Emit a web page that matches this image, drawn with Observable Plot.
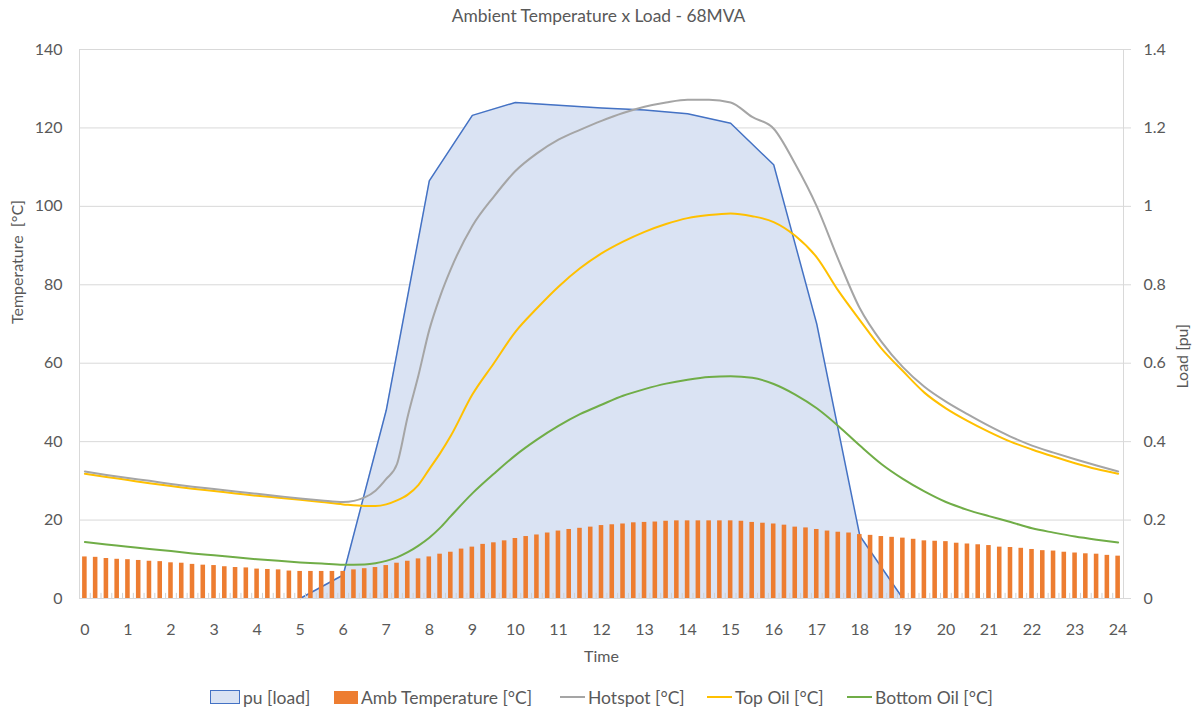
<!DOCTYPE html>
<html>
<head>
<meta charset="utf-8">
<script src="https://cdn.jsdelivr.net/npm/d3@7"></script>
<script src="https://cdn.jsdelivr.net/npm/@observablehq/plot@0.6"></script>
<style>
  body { margin: 0; background: #fff; font-family: Lato, "Noto Sans", sans-serif; color: #595959; }
  #wrap { position: relative; width: 1197px; height: 711px; }
  #title { position: absolute; top: 0; left: 0; width: 1197px; height: 32px; line-height: 32px; text-align: center; font-size: 17.4px; color: #595959; }
  #chart { position: absolute; top: 32px; left: 0; }
  #legend { position: absolute; top: 684px; left: 0; width: 1197px; height: 26px; font-size: 17.5px; color: #595959; }
  .item { position: absolute; top: 0; height: 26px; display: flex; align-items: center; white-space: nowrap; }
  .sw { display: inline-block; margin-right: 3px; }
</style>
</head>
<body>
<div id="wrap">
  <div id="title">Ambient Temperature x Load - 68MVA</div>
  <div id="chart"></div>
  <div id="legend">
    <div class="item" style="left:210px"><span class="sw" style="width:30px;height:14px;background:#DAE3F3;border:1px solid #4472C4;box-sizing:border-box"></span>pu [load]</div>
    <div class="item" style="left:334px"><span class="sw" style="width:24px;height:13px;background:#ED7D31"></span>Amb Temperature [°C]</div>
    <div class="item" style="left:560px"><span class="sw" style="width:25px;height:2px;background:#A5A5A5"></span>Hotspot [°C]</div>
    <div class="item" style="left:707px"><span class="sw" style="width:25px;height:2px;background:#FFC000"></span>Top Oil [°C]</div>
    <div class="item" style="left:847px"><span class="sw" style="width:25px;height:2px;background:#70AD47"></span>Bottom Oil [°C]</div>
  </div>
</div>
<script>
// ---- Data ----
const hourTicks = [0,1,2,3,4,5,6,7,8,9,10,11,12,13,14,15,16,17,18,19,20,21,22,23,24];
const tempTicks = [0,20,40,60,80,100,120,140];

// Ambient temperature, 15-minute steps
const ambTimes = [
  0,0.25,0.5,0.75, 1,1.25,1.5,1.75, 2,2.25,2.5,2.75, 3,3.25,3.5,3.75,
  4,4.25,4.5,4.75, 5,5.25,5.5,5.75, 6,6.25,6.5,6.75, 7,7.25,7.5,7.75,
  8,8.25,8.5,8.75, 9,9.25,9.5,9.75, 10,10.25,10.5,10.75, 11,11.25,11.5,11.75,
  12,12.25,12.5,12.75, 13,13.25,13.5,13.75, 14,14.25,14.5,14.75, 15,15.25,15.5,15.75,
  16,16.25,16.5,16.75, 17,17.25,17.5,17.75, 18,18.25,18.5,18.75, 19,19.25,19.5,19.75,
  20,20.25,20.5,20.75, 21,21.25,21.5,21.75, 22,22.25,22.5,22.75, 23,23.25,23.5,23.75, 24
];
const ambTemp = [
  10.6,10.5,10.2,10.0, 9.9,9.7,9.5,9.4, 9.1,9.0,8.7,8.5, 8.4,8.1,7.9,7.8,
  7.5,7.4,7.3,7.0, 6.9,6.9,6.9,6.9, 6.9,7.3,7.6,7.9, 8.4,9.0,9.5,10.1,
  10.6,11.3,11.8,12.6, 13.1,13.8,14.2,14.7, 15.3,15.8,16.2,16.7, 17.2,17.6,17.9,18.2,
  18.6,18.8,19.0,19.3, 19.4,19.5,19.7,19.8, 19.8,19.8,19.8,19.8, 19.8,19.7,19.4,19.2,
  19.0,18.7,18.2,18.0, 17.6,17.2,16.9,16.7, 16.3,16.1,15.8,15.6, 15.4,15.1,14.7,14.6,
  14.5,14.1,13.9,13.7, 13.5,13.1,13.0,12.8, 12.5,12.2,12.1,11.8, 11.6,11.4,11.3,11.0, 10.8
];

// Temperature curves
const lineTimes = [
  0,0.5,1,1.5,2,2.5,3,3.5,4,4.5,5,5.5,6,6.5,
  6.75,7,7.25,7.5,7.75,8,8.25,8.5,
  9,9.5,10,10.5,11,11.5,12,12.5,13,13.5,14,14.5,15,15.5,16,16.5,17,17.5,18,18.5,19,19.5,20,20.5,21,21.5,22,22.5,23,23.5,24
];
const hotspot = [
  32.4,31.5,30.7,30.0,29.2,28.5,27.9,27.3,26.7,26.1,25.5,25.0,24.6,25.8,
  27.5,30.5,34.3,46.5,57.0,68.5,77.0,84.0,
  95.0,102.5,109.0,113.5,117.0,119.5,121.8,123.8,125.4,126.5,127.2,127.2,126.5,122.8,119.8,110.8,100.0,86.5,74.0,65.5,59.0,54.0,50.2,47.0,44.0,41.3,39.0,37.2,35.5,33.9,32.4
];
const topOil = [
  31.8,31.0,30.2,29.4,28.7,28.0,27.4,26.8,26.2,25.7,25.2,24.6,24.0,23.6,
  23.6,24.0,25.0,26.5,29.0,33.0,37.0,41.5,
  52.0,60.0,68.0,74.0,79.5,84.2,88.0,91.0,93.5,95.5,97.0,97.8,98.2,97.5,96.0,92.5,87.0,78.5,71.0,63.8,58.0,52.5,48.5,45.3,42.5,40.0,38.0,36.2,34.5,33.0,31.8
];
const bottomOil = [
  14.4,13.8,13.2,12.6,12.1,11.5,11.0,10.5,10.0,9.6,9.2,8.9,8.6,8.7,
  9.0,9.6,10.5,11.8,13.5,15.5,18.0,21.0,
  26.8,31.8,36.5,40.5,44.0,47.0,49.4,51.7,53.4,54.8,55.8,56.5,56.7,56.3,54.7,52.0,48.5,44.0,39.0,34.3,30.5,27.3,24.6,22.6,21.0,19.5,17.9,16.8,15.8,15.0,14.3
];

// Load in pu (hourly)
const loadTimes = [5,6,7,8,9,10,11,12,13,14,15,16,17,18,19];
const loadPu = [0,0.06,0.48,1.065,1.232,1.265,1.258,1.251,1.246,1.236,1.212,1.106,0.70,0.16,0];

// ---- Tables ----
const amb = ambTimes.map((t, i) => ({t, v: ambTemp[i]}));
const curves = lineTimes.map((t, i) => ({t, hot: hotspot[i], top: topOil[i], bot: bottomOil[i]}));
const load = loadTimes.map((t, i) => ({t, pu: loadPu[i]}));
const PU = 100; // right axis: 1 pu per 100 °C on the shared scale

const chart = Plot.plot({
  width: 1197,
  height: 650,
  marginTop: 17,
  marginBottom: 84,
  marginLeft: 79,
  marginRight: 74,
  style: {fontFamily: "Lato, 'Noto Sans', sans-serif", fontSize: "16px", color: "#595959", background: "#fff"},
  x: {domain: [-0.125, 24.125]},
  y: {domain: [0, 140]},
  marks: [
    Plot.gridY(tempTicks, {stroke: "#d9d9d9", strokeOpacity: 1}),
    Plot.areaY(load, {x: "t", y: d => d.pu * PU, fill: "#DAE3F3", fillOpacity: 1}),
    Plot.lineY(load, {x: "t", y: d => d.pu * PU, stroke: "#4472C4", strokeWidth: 1.5}),
    Plot.ruleX(ambTimes, {x: d => d + 0.125, y1: 0, y2: 1.3, stroke: "#d0d0d0", strokeWidth: 1}),
    Plot.rectY(amb, {x1: d => d.t - 0.125, x2: d => d.t + 0.125, y: "v", fill: "#ED7D31", insetLeft: 3.1, insetRight: 3.1}),
    Plot.frame({stroke: "#d9d9d9"}),
    Plot.lineY(curves, {x: "t", y: "bot", stroke: "#70AD47", strokeWidth: 2, curve: "monotone-x"}),
    Plot.lineY(curves, {x: "t", y: "top", stroke: "#FFC000", strokeWidth: 2, curve: "monotone-x"}),
    Plot.lineY(curves, {x: "t", y: "hot", stroke: "#A5A5A5", strokeWidth: 2, curve: "monotone-x"}),
    Plot.axisX(hourTicks, {tickSize: 0, tickPadding: 25, label: null, fill: "#595959"}),
    Plot.axisY(tempTicks, {anchor: "left", tickSize: 0, tickPadding: 17, label: null, fill: "#595959"}),
    Plot.axisY(tempTicks, {anchor: "right", tickSize: 7, tickPadding: 13, stroke: "#d9d9d9", label: null, fill: "#595959",
      tickFormat: d => String(+(d / PU).toFixed(1))}),
    Plot.text(["Time"], {frameAnchor: "bottom", dy: 63, fill: "#595959", fontSize: 16}),
    Plot.text(["Temperature  [°C]"], {frameAnchor: "left", dx: -61.5, rotate: -90, fill: "#595959", fontSize: 16}),
    Plot.text(["Load [pu]"], {frameAnchor: "right", dx: 59, rotate: -90, fill: "#595959", fontSize: 16})
  ]
});
document.getElementById("chart").appendChild(chart);
</script>
</body>
</html>
